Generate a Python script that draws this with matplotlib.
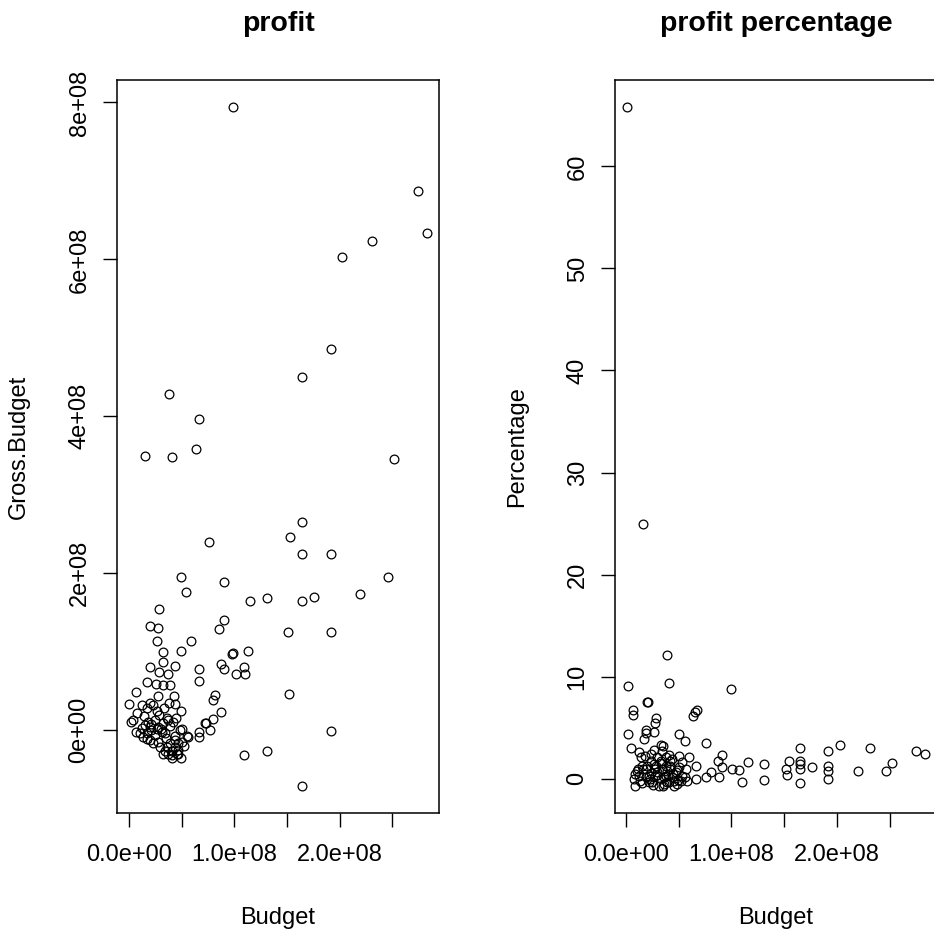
import numpy as np
import matplotlib
matplotlib.use("Agg")
import matplotlib.pyplot as plt

plt.rcParams['font.family'] = ['Liberation Sans', 'DejaVu Sans']

# profit panel: budget and gross minus budget, both in millions of dollars
budget = [98.6, 274.2, 282.8, 230.3, 202.5, 191.4, 164.6, 38.3, 66.1, 15.5,
          40.8, 63.6, 251.5, 164.6, 152.9, 75.9, 164.6, 191.2, 245.7, 164.6,
          175.6, 219.2, 191.2, 191.2, 164.6, 49.0, 90.0, 54.6, 115.3, 130.5,
          28.1, 90.0, 85.5, 150.7, 19.9, 27.2, 26.8, 59.0, 49.0, 32.5,
          98.3, 112.5, 19.6, 31.9, 43.9, 28.1, 37.3, 66.1, 66.1, 86.9,
          90.0, 101.2, 109.6, 110.0, 16.7, 25.8, 31.9, 39.1, 42.9, 27.2,
          6.9, 0.0, 12.6, 19.9, 37.6, 43.9, 49.3, 79.3, 81.8, 87.8,
          152.0, 79.9, 72.7, 76.7, 66.1, 66.1, 55.3, 48.4, 1.6, 4.1,
          6.6, 10.4, 15.2, 19.9, 24.6, 28.7, 32.5, 37.3, 42.0, 26.3,
          31.0, 19.9, 23.1, 29.4, 34.1, 37.3, 40.5, 43.6, 46.7, 49.3,
          40.5, 13.5, 109.6, 130.8, 43.6, 49.9, 16.7, 34.1, 16.7, 45.2,
          46.7, 38.8, 35.7, 18.3, 49.9, 72.0, 27.8, 21.4, 97.3, 56.2,
          8.0, 14.0, 21.0, 25.0, 30.0, 35.0, 39.0, 44.0, 47.0, 41.0,
          36.0, 32.0, 27.0, 33.0, 23.0, 12.0, 17.0, 28.0, 45.0, 52.0]
gross_budget = [794, 687, 634, 624, 603, 486, 450, 428, 397, 350,
                348, 358, 346, 265, 246, 240, 225, 224, 195, 165,
                170, 173, 125, -1, -71, 195, 189, 176, 165, 168,
                155, 140, 129, 125, 133, 130, 113, 113, 101, 99,
                98, 101, 81, 87, 82, 74, 72, 78, 62, 84,
                78, 71, 80, 71, 61, 59, 57, 58, 44, 44,
                48, 33, 32, 34, 34, 33, 25, 39, 45, 23,
                46, 14, 9, 0, -2, -9, -8, 0, 10, 13,
                -2, -4, 6, 4, 13, 19, 9, 13, 11, 2,
                -2, -13, -17, -21, -26, -30, -26, -21, -30, -36,
                -32, -9, -32, -26, -13, -15, 28, -4, -11, -30,
                -17, -17, 15, 11, 2, 9, 4, 0, 97, -9,
                22, 18, 8, -6, 2, -10, 5, -8, -25, -36,
                -22, -30, 24, 28, 32, 3, -4, -15, 15, -20]

# profit percentage panel: budget in millions and profit / budget
pct_budget = [1.1, 16.4, 38.8, 2.2, 41.0, 99.2, 20.2, 7.3, 7.3, 67.3,
              63.8, 28.7, 27.5, 19.6, 2.2, 17.7, 26.8, 49.9, 55.6, 76.1,
              4.7, 32.9, 12.3, 14.8, 26.5, 40.8, 50.2, 59.7, 90.7, 86.9,
              115.9, 131.1, 131.1, 110.3, 66.6, 66.6, 75.5, 80.3, 88.0, 100.7,
              107.1, 91.3, 57.2, 56.0, 49.6, 45.5, 7.6, 9.1, 13.9, 21.8,
              25.0, 29.7, 32.9, 37.6, 40.8, 43.9, 48.7, 18.7, 26.5, 32.9,
              37.6, 42.3, 47.1, 29.7, 34.4, 37.6, 42.3, 23.4, 15.5, 10.8,
              21.8, 36.1, 31.2, 50.2, 53.4, 28.1, 34.4, 39.1, 45.5, 18.7,
              12.3, 51.8, 164.9, 164.9, 164.9, 164.9, 164.9, 154.3, 151.4, 152.8,
              175.9, 191.4, 191.4, 191.4, 191.4, 203.1, 219.9, 230.9, 246.4, 252.1,
              274.2, 283.1, 21.1, 65.6, 19.2, 35.2, 16.5, 24.2, 28.6, 39.6,
              9.0, 12.0, 15.0, 20.0, 23.0, 26.0, 30.0, 33.0, 36.0, 39.0,
              42.0, 45.0, 24.0, 28.0, 18.0, 35.0, 44.0, 48.0, 53.0, 58.0]
percentage = [65.8, 25.0, 12.1, 9.1, 9.4, 8.8, 7.5, 6.7, 6.2, 6.7,
              6.15, 5.96, 5.47, 4.78, 4.39, 3.86, 4.54, 4.35, 3.66, 3.46,
              2.97, 3.31, 2.58, 2.09, 2.85, 2.36, 2.26, 2.09, 2.36, 1.77,
              1.6, 1.44, -0.13, -0.36, 1.28, -0.03, 0.13, 0.62, 0.2, 0.95,
              0.85, 1.11, 0.95, 0.2, -0.13, -0.69, -0.03, -0.69, -0.2, 0.29,
              -0.36, 0.62, -0.03, 0.29, -0.36, 0.13, -0.52, 0.95, 1.44, 1.77,
              1.28, 0.95, 0.62, 2.09, 2.75, 2.09, 1.77, 1.77, 1.28, 0.79,
              -0.36, -0.52, -0.69, 1.11, 1.6, 0.29, 0.95, 0.79, -0.2, 0.13,
              0.29, -0.2, 3.01, 1.7, 1.44, 0.95, -0.46, 1.7, 0.95, 0.39,
              1.11, 2.68, 1.28, 0.79, -0.03, 3.31, 0.79, 3.01, 0.79, 1.54,
              2.68, 2.42, 7.5, 6.5, 4.5, 3.2, 1.0, 0.6, 1.2, 0.4,
              0.5, 1.0, -0.4, 1.2, 0.0, -0.6, 0.4, 1.5, 0.2, -0.3,
              1.2, 0.5, 2.4, 1.0, 2.2, -0.7, 1.9, 0.9, 0.3, -0.2]

x_ticks = [0, 50, 100, 150, 200, 250]
x_labels = ['0.0e+00', '', '1.0e+08', '', '2.0e+08', '']
gb_ticks = [0, 200, 400, 600, 800]
gb_labels = ['0e+00', '2e+08', '4e+08', '6e+08', '8e+08']
pct_ticks = [0, 10, 20, 30, 40, 50, 60]

W, H = 934, 932
fig = plt.figure(figsize=(W / 100, H / 100), dpi=100)

def px_axes(left, top, right, bottom):
    return fig.add_axes([left / W, 1 - bottom / H, (right - left) / W, (bottom - top) / H])

def base_style(ax):
    ax.margins(x=0.04, y=0.04)
    for s in ax.spines.values():
        s.set_linewidth(1.1)
    ax.tick_params(length=10, width=1.0, labelsize=17)
    ax.tick_params(axis='x', pad=12)
    ax.tick_params(axis='y', pad=9, labelrotation=90)

def scatter(ax, x, y):
    ax.plot(x, y, 'o', ms=6.3, mfc='none', mec='black', mew=0.9)

ax1 = px_axes(117, 80, 439, 813)
scatter(ax1, budget, gross_budget)
base_style(ax1)
ax1.set_xticks(x_ticks, x_labels)
ax1.set_yticks(gb_ticks, gb_labels)
for lab in ax1.get_yticklabels():
    lab.set_va('center')
ax1.set_xlabel('Budget', fontsize=17)
ax1.set_ylabel('Gross.Budget', fontsize=17)
ax1.xaxis.set_label_coords(0.5, -0.128)
ax1.yaxis.set_label_coords(-0.27, 0.5)

ax2 = px_axes(615, 80, 937, 813)
scatter(ax2, pct_budget, percentage)
base_style(ax2)
ax2.set_xticks(x_ticks, x_labels)
ax2.set_yticks(pct_ticks, [str(t) for t in pct_ticks])
for lab in ax2.get_yticklabels():
    lab.set_va('center')
ax2.set_xlabel('Budget', fontsize=17)
ax2.set_ylabel('Percentage', fontsize=17)
ax2.xaxis.set_label_coords(0.5, -0.128)
ax2.yaxis.set_label_coords(-0.27, 0.5)

fig.text(278 / W, 1 - 24 / H, 'profit', ha='center', va='center', fontsize=20.5, weight='bold')
fig.text(776 / W, 1 - 24 / H, 'profit percentage', ha='center', va='center', fontsize=20.5, weight='bold')

fig.savefig('out.png', dpi=100)
